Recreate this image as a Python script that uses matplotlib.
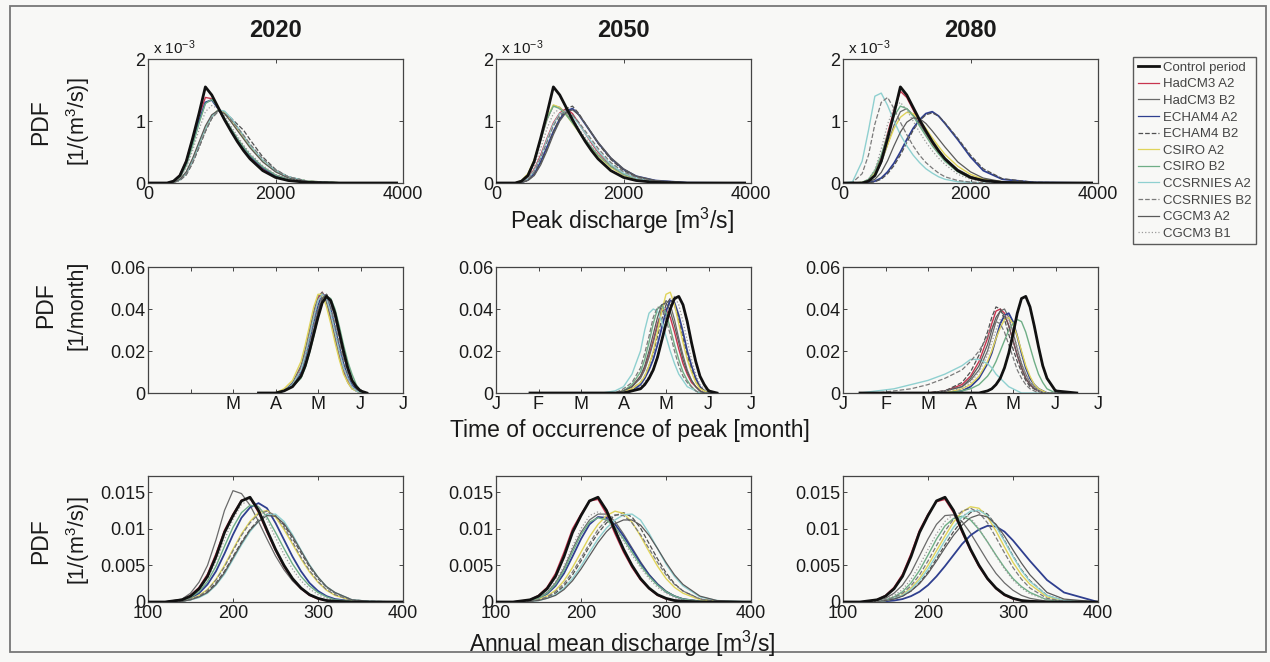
import numpy as np
import matplotlib
matplotlib.use("Agg")
import matplotlib.pyplot as plt
from matplotlib.lines import Line2D
from matplotlib.patches import Rectangle

plt.rcParams['font.family'] = ['Liberation Sans', 'DejaVu Sans']
plt.rcParams['mathtext.fontset'] = 'custom'
plt.rcParams['mathtext.rm'] = 'Liberation Sans'
plt.rcParams['mathtext.it'] = 'Liberation Sans:italic'

# ---------------- data ----------------
years = ['2020', '2050', '2080']
series_names = ['Control period', 'HadCM3 A2', 'HadCM3 B2', 'ECHAM4 A2', 'ECHAM4 B2',
                'CSIRO A2', 'CSIRO B2', 'CCSRNIES A2', 'CCSRNIES B2', 'CGCM3 A2', 'CGCM3 B1']

# Row 1: peak discharge [m3/s], PDF in units of 1e-3
peak_x = [0, 150, 300, 400, 500, 600, 700, 800, 900, 1000, 1100, 1200, 1300, 1400, 1500, 1600,
          1800, 2000, 2200, 2500, 3000, 3900]
peak_control = [0, 0, 0, .03, .12, .35, .72, 1.12, 1.55, 1.42, 1.22, 1.02, .84, .67, .52, .39, .2, .09, .04, .01, 0, 0]
peak_2020 = [
    [0, 0, 0, .03, .13, .36, .72, 1.08, 1.38, 1.36, 1.2, 1.02, .85, .69, .55, .42, .23, .11, .05, .015, 0, 0],
    [0, 0, 0, .01, .05, .15, .35, .6, .86, 1.06, 1.17, 1.15, 1.04, .9, .75, .6, .36, .2, .1, .03, .005, 0],
    [0, 0, 0, .02, .1, .3, .64, 1.0, 1.3, 1.34, 1.2, 1.03, .87, .71, .57, .44, .25, .12, .06, .02, 0, 0],
    [0, 0, 0, .01, .04, .13, .32, .57, .83, 1.04, 1.16, 1.14, 1.05, .95, .85, .7, .42, .22, .1, .03, .005, 0],
    [0, 0, 0, .01, .06, .17, .38, .63, .88, 1.08, 1.18, 1.13, 1.0, .86, .72, .58, .35, .19, .09, .03, .005, 0],
    [0, 0, 0, .02, .09, .28, .6, .96, 1.28, 1.35, 1.22, 1.05, .88, .72, .58, .45, .26, .13, .06, .02, 0, 0],
    [0, 0, 0, .01, .05, .16, .36, .62, .87, 1.07, 1.18, 1.16, 1.05, .91, .76, .61, .37, .2, .1, .03, .005, 0],
    [0, 0, 0, .01, .05, .14, .33, .58, .84, 1.05, 1.15, 1.12, 1.02, .9, .77, .63, .39, .21, .1, .03, .005, 0],
    [0, 0, 0, .01, .06, .18, .4, .66, .92, 1.1, 1.17, 1.12, .99, .85, .71, .57, .34, .18, .08, .02, 0, 0],
    [0, 0, 0, .02, .08, .24, .52, .86, 1.15, 1.25, 1.2, 1.08, .92, .76, .61, .48, .28, .14, .07, .02, 0, 0],
]
peak_2050 = [
    [0, 0, 0, .02, .08, .22, .45, .72, .97, 1.13, 1.2, 1.12, .96, .8, .64, .5, .28, .14, .06, .02, 0, 0],
    [0, 0, 0, .03, .12, .34, .68, 1.02, 1.25, 1.22, 1.12, .98, .84, .7, .57, .45, .26, .13, .06, .02, 0, 0],
    [0, 0, 0, .01, .05, .15, .34, .58, .83, 1.03, 1.16, 1.2, 1.1, .95, .8, .65, .4, .22, .11, .04, .005, 0],
    [0, 0, 0, .01, .04, .13, .31, .55, .82, 1.05, 1.2, 1.24, 1.12, .96, .8, .64, .38, .2, .1, .03, 0, 0],
    [0, 0, 0, .04, .15, .38, .72, 1.05, 1.26, 1.22, 1.1, .96, .82, .68, .55, .44, .25, .13, .06, .02, 0, 0],
    [0, 0, 0, .03, .13, .36, .7, 1.04, 1.24, 1.2, 1.1, .97, .83, .7, .57, .45, .27, .14, .07, .02, 0, 0],
    [0, 0, 0, .02, .07, .2, .42, .7, .95, 1.12, 1.15, 1.08, .95, .8, .66, .52, .3, .16, .08, .02, 0, 0],
    [0, 0, 0, .01, .06, .18, .4, .66, .92, 1.1, 1.16, 1.1, .98, .84, .7, .56, .33, .18, .09, .03, 0, 0],
    [0, 0, 0, .01, .04, .12, .29, .52, .78, 1.0, 1.14, 1.18, 1.1, .96, .81, .66, .41, .23, .11, .04, .005, 0],
    [0, 0, 0, .02, .09, .26, .55, .88, 1.12, 1.2, 1.15, 1.03, .88, .73, .59, .46, .27, .14, .07, .02, 0, 0],
]
peak_2080 = [
    [0, 0, 0, .04, .16, .42, .8, 1.18, 1.48, 1.38, 1.18, .98, .8, .63, .49, .37, .19, .08, .03, .01, 0, 0],
    [0, 0, 0, .03, .12, .32, .62, .93, 1.15, 1.2, 1.1, .95, .8, .65, .52, .4, .22, .11, .05, .01, 0, 0],
    [0, 0, 0, .01, .03, .08, .18, .32, .5, .7, .88, 1.02, 1.12, 1.15, 1.08, .96, .7, .42, .2, .06, .01, 0],
    [0, 0, 0, 0, .02, .06, .15, .28, .45, .65, .85, 1.0, 1.1, 1.13, 1.08, .97, .72, .45, .23, .07, .01, 0],
    [0, 0, .01, .05, .16, .36, .62, .88, 1.06, 1.14, 1.12, 1.02, .88, .73, .59, .46, .27, .14, .06, .02, 0, 0],
    [0, 0, .01, .06, .2, .45, .78, 1.08, 1.24, 1.2, 1.08, .92, .76, .6, .47, .35, .18, .08, .03, .01, 0, 0],
    [0, .02, .35, .85, 1.4, 1.45, 1.25, 1.0, .78, .6, .45, .33, .23, .16, .1, .06, .02, .01, 0, 0, 0, 0],
    [0, .01, .15, .45, .95, 1.3, 1.38, 1.2, .98, .78, .6, .45, .33, .24, .16, .1, .04, .015, .005, 0, 0, 0],
    [0, 0, 0, .02, .06, .17, .36, .6, .82, .98, 1.05, 1.04, .96, .84, .71, .58, .34, .18, .08, .02, 0, 0],
    [0, 0, .01, .06, .22, .55, .95, 1.22, 1.3, 1.18, 1.0, .82, .66, .52, .4, .3, .14, .06, .02, 0, 0, 0],
]

# Row 2: time of occurrence of peak [month index, 0 = January], PDF [1/month]
time_x_2020 = [2.6, 2.8, 3.0, 3.2, 3.4, 3.6, 3.7, 3.8, 3.9, 4.0, 4.1, 4.2, 4.3, 4.4, 4.5, 4.6, 4.7, 4.8, 4.9, 5.0, 5.15]
time_control_2020 = [0, 0, 0, .001, .003, .008, .013, .02, .028, .036, .043, .046, .044, .038, .029, .02, .012, .006, .003, .001, 0]
time_2020 = [
    [0, 0, 0, .001, .004, .012, .019, .028, .037, .045, .048, .044, .036, .027, .018, .011, .006, .003, .001, 0, 0],
    [0, 0, 0, .001, .005, .013, .021, .03, .039, .046, .048, .043, .035, .026, .017, .01, .005, .002, .001, 0, 0],
    [0, 0, 0, .001, .004, .01, .017, .025, .034, .042, .047, .046, .04, .031, .022, .014, .008, .004, .002, 0, 0],
    [0, 0, 0, .001, .003, .008, .013, .02, .029, .038, .045, .047, .044, .037, .028, .019, .012, .006, .003, .001, 0],
    [0, 0, 0, .002, .006, .015, .023, .032, .041, .047, .047, .041, .033, .024, .016, .009, .005, .002, .001, 0, 0],
    [0, 0, 0, .001, .003, .007, .012, .019, .027, .036, .043, .046, .045, .04, .032, .023, .015, .009, .004, .001, 0],
    [0, 0, 0, .001, .004, .011, .018, .027, .036, .044, .047, .045, .038, .029, .02, .012, .007, .003, .001, 0, 0],
    [0, 0, 0, .001, .003, .009, .015, .023, .032, .04, .046, .046, .041, .033, .024, .016, .009, .005, .002, .001, 0],
    [0, 0, 0, .001, .003, .008, .014, .021, .03, .039, .045, .047, .043, .036, .027, .018, .011, .006, .003, .001, 0],
    [0, 0, 0, .001, .004, .011, .018, .026, .035, .043, .047, .045, .039, .03, .021, .013, .007, .003, .001, 0, 0],
]
time_x_2050 = [0.8, 1.5, 2.0, 2.5, 2.8, 3.0, 3.2, 3.4, 3.5, 3.6, 3.7, 3.8, 3.9, 4.0, 4.1, 4.2, 4.3, 4.4, 4.5,
               4.6, 4.7, 4.8, 4.9, 5.0, 5.2]
time_control_2050 = [0, 0, 0, 0, 0, 0, .001, .002, .004, .007, .011, .017, .025, .033, .04, .045, .046, .042, .034,
                     .024, .015, .008, .004, .001, 0]
time_2050 = [
    [0, 0, 0, 0, 0, .001, .003, .008, .012, .018, .025, .033, .039, .04, .036, .029, .021, .014, .009, .005, .003, .001, 0, 0, 0],
    [0, 0, 0, 0, 0, .001, .003, .007, .011, .017, .024, .032, .04, .044, .042, .035, .026, .018, .011, .006, .003, .001, 0, 0, 0],
    [0, 0, 0, 0, 0, 0, .001, .004, .007, .011, .016, .023, .031, .039, .044, .043, .037, .029, .02, .013, .007, .003, .001, 0, 0],
    [0, 0, 0, 0, 0, 0, .002, .005, .008, .013, .019, .027, .035, .042, .045, .042, .035, .026, .018, .011, .006, .003, .001, 0, 0],
    [0, 0, 0, 0, 0, .001, .002, .005, .008, .013, .02, .029, .039, .047, .048, .042, .033, .024, .016, .01, .005, .002, .001, 0, 0],
    [0, 0, 0, 0, 0, .001, .004, .01, .016, .024, .033, .04, .042, .038, .031, .023, .016, .01, .006, .003, .001, 0, 0, 0, 0],
    [0, 0, 0, 0, .001, .003, .009, .02, .03, .038, .04, .039, .034, .027, .02, .014, .009, .006, .003, .002, .001, 0, 0, 0, 0],
    [0, 0, 0, 0, 0, .002, .005, .012, .019, .027, .036, .041, .04, .035, .028, .02, .013, .008, .005, .003, .001, 0, 0, 0, 0],
    [0, 0, 0, 0, 0, .001, .003, .008, .013, .02, .028, .036, .042, .043, .039, .032, .024, .016, .01, .006, .003, .001, 0, 0, 0],
    [0, 0, 0, 0, 0, 0, .001, .003, .005, .008, .012, .018, .026, .035, .043, .046, .042, .034, .025, .016, .009, .004, .002, .001, 0],
]
time_x_2080 = [0.4, 0.8, 1.2, 1.6, 2.0, 2.4, 2.8, 3.0, 3.2, 3.4, 3.5, 3.6, 3.7, 3.8, 3.9, 4.0, 4.1, 4.2, 4.3,
               4.4, 4.5, 4.6, 4.7, 4.8, 5.0, 5.5]
time_control_2080 = [0, 0, 0, 0, 0, 0, 0, 0, 0, .001, .002, .004, .007, .012, .019, .028, .038, .045, .046, .041,
                     .032, .022, .013, .007, .001, 0]
time_2080 = [
    [0, 0, 0, 0, 0, .001, .004, .008, .015, .026, .033, .039, .04, .038, .032, .025, .018, .012, .007, .004, .002, .001, 0, 0, 0, 0],
    [0, 0, 0, 0, 0, .001, .003, .006, .011, .02, .027, .034, .039, .04, .036, .029, .021, .014, .009, .005, .003, .001, 0, 0, 0, 0],
    [0, 0, 0, 0, 0, 0, .001, .003, .007, .014, .019, .026, .033, .037, .038, .034, .027, .019, .012, .007, .004, .002, .001, 0, 0, 0],
    [0, 0, 0, 0, 0, .001, .005, .01, .018, .029, .036, .041, .04, .035, .028, .021, .015, .01, .006, .003, .002, .001, 0, 0, 0, 0],
    [0, 0, 0, 0, 0, 0, .002, .004, .008, .015, .02, .026, .031, .035, .036, .033, .027, .02, .013, .008, .004, .002, .001, 0, 0, 0],
    [0, 0, 0, 0, 0, 0, .001, .002, .004, .008, .011, .015, .02, .025, .03, .033, .035, .034, .029, .022, .015, .009, .005, .002, 0, 0],
    [0, .001, .002, .004, .006, .009, .013, .016, .016, .014, .012, .009, .007, .005, .003, .002, .001, 0, 0, 0, 0, 0, 0, 0, 0, 0],
    [0, 0, .001, .002, .004, .007, .011, .015, .02, .027, .031, .034, .033, .029, .023, .017, .011, .007, .004, .002, .001, 0, 0, 0, 0, 0],
    [0, 0, 0, 0, 0, .001, .003, .007, .013, .023, .03, .036, .039, .037, .032, .025, .018, .012, .007, .004, .002, .001, 0, 0, 0, 0],
    [0, 0, 0, 0, 0, .001, .002, .005, .01, .018, .024, .03, .035, .037, .035, .029, .022, .015, .009, .005, .003, .001, 0, 0, 0, 0],
]

# Row 3: annual mean discharge [m3/s], PDF in units of 1e-3
mean_x = [100, 120, 140, 150, 160, 170, 180, 190, 200, 210, 220, 230, 240, 250, 260, 270, 280, 290, 300,
          310, 320, 340, 360, 400]
mean_control = [0, 0, .3, .8, 1.8, 3.5, 6.2, 9.5, 11.8, 13.8, 14.3, 12.5, 9.8, 7.2, 5.0, 3.2, 1.9, 1.0, .5, .2, .1, 0, 0, 0]
mean_2020 = [
    [0, 0, .3, .9, 2.0, 3.8, 6.6, 9.8, 12.0, 13.9, 14.2, 12.2, 9.5, 7.0, 4.8, 3.0, 1.8, .9, .4, .2, .1, 0, 0, 0],
    [0, 0, .4, 1.2, 2.7, 5.0, 8.5, 12.5, 15.2, 14.8, 13.2, 11.0, 8.6, 6.3, 4.4, 2.9, 1.8, 1.0, .5, .2, .1, 0, 0, 0],
    [0, 0, .2, .5, 1.2, 2.4, 4.2, 6.6, 9.2, 11.5, 12.9, 13.5, 12.8, 10.8, 8.5, 6.2, 4.2, 2.6, 1.5, .8, .4, .1, 0, 0],
    [0, 0, .1, .3, .7, 1.4, 2.6, 4.2, 6.2, 8.2, 9.9, 11.2, 12.0, 11.8, 10.5, 8.7, 6.7, 4.8, 3.2, 2.0, 1.2, .3, .1, 0],
    [0, 0, .1, .4, .9, 1.7, 3.1, 5.0, 7.2, 9.3, 11.0, 12.2, 12.5, 11.6, 9.9, 7.9, 5.9, 4.1, 2.7, 1.6, .9, .2, 0, 0],
    [0, 0, .2, .6, 1.4, 2.8, 4.9, 7.6, 10.2, 12.2, 13.2, 13.0, 11.6, 9.5, 7.3, 5.2, 3.5, 2.2, 1.3, .7, .3, .1, 0, 0],
    [0, 0, .1, .3, .6, 1.2, 2.3, 3.8, 5.8, 7.8, 9.6, 11.0, 11.9, 12.0, 11.0, 9.2, 7.1, 5.1, 3.4, 2.1, 1.3, .3, .1, 0],
    [0, 0, .1, .4, .8, 1.6, 3.0, 4.8, 7.0, 9.1, 10.8, 12.0, 12.4, 11.8, 10.2, 8.2, 6.1, 4.3, 2.8, 1.7, 1.0, .2, 0, 0],
    [0, 0, .1, .3, .7, 1.3, 2.4, 4.0, 6.0, 8.0, 9.8, 11.0, 11.8, 11.7, 10.7, 9.0, 7.0, 5.0, 3.4, 2.1, 1.3, .3, .1, 0],
    [0, 0, .2, .7, 1.6, 3.2, 5.6, 8.5, 11.3, 13.3, 14.0, 13.1, 11.2, 8.8, 6.5, 4.5, 2.9, 1.8, 1.0, .5, .2, .1, 0, 0],
]
mean_2050 = [
    [0, 0, .3, .9, 2.0, 3.9, 6.8, 10.0, 12.0, 13.8, 14.0, 12.0, 9.3, 6.8, 4.7, 3.0, 1.8, .9, .4, .2, .1, 0, 0, 0],
    [0, 0, .2, .6, 1.3, 2.6, 4.6, 7.2, 9.5, 11.2, 12.0, 12.0, 11.0, 9.3, 7.4, 5.5, 3.8, 2.5, 1.5, .8, .4, .1, 0, 0],
    [0, 0, .2, .5, 1.1, 2.2, 3.9, 6.2, 8.6, 10.6, 11.6, 11.5, 10.6, 9.0, 7.2, 5.3, 3.7, 2.4, 1.4, .8, .4, .1, 0, 0],
    [0, 0, .1, .3, .6, 1.2, 2.2, 3.7, 5.6, 7.6, 9.4, 10.8, 11.8, 12.2, 11.6, 10.1, 8.0, 5.9, 4.0, 2.5, 1.5, .4, .1, 0],
    [0, 0, .1, .4, .8, 1.6, 2.9, 4.7, 6.8, 8.9, 10.6, 11.8, 12.4, 12.1, 10.9, 9.0, 6.9, 4.9, 3.2, 2.0, 1.2, .3, .1, 0],
    [0, 0, .2, .5, 1.2, 2.4, 4.3, 6.8, 9.2, 10.9, 11.5, 11.2, 10.2, 8.6, 6.8, 5.0, 3.5, 2.3, 1.4, .8, .4, .1, 0, 0],
    [0, 0, .1, .2, .5, 1.0, 1.9, 3.2, 4.9, 6.8, 8.6, 10.1, 11.2, 11.9, 12.0, 11.2, 9.4, 7.3, 5.2, 3.5, 2.2, .7, .2, 0],
    [0, 0, .1, .3, .7, 1.4, 2.5, 4.1, 6.0, 8.0, 9.9, 11.2, 11.9, 11.8, 10.8, 9.2, 7.3, 5.4, 3.7, 2.4, 1.5, .4, .1, 0],
    [0, 0, .1, .2, .5, .9, 1.7, 2.9, 4.5, 6.3, 8.1, 9.6, 10.7, 11.2, 11.2, 10.5, 9.1, 7.3, 5.4, 3.7, 2.4, .8, .2, 0],
    [0, 0, .2, .6, 1.4, 2.8, 4.9, 7.6, 10.0, 11.8, 12.3, 11.7, 10.2, 8.3, 6.4, 4.7, 3.2, 2.0, 1.2, .6, .3, .1, 0, 0],
]
mean_2080 = [
    [0, 0, .3, .9, 2.0, 3.8, 6.6, 9.8, 12.0, 13.7, 14.0, 12.2, 9.5, 7.0, 4.8, 3.1, 1.8, .9, .4, .2, .1, 0, 0, 0],
    [0, 0, .2, .5, 1.2, 2.3, 4.0, 6.3, 8.6, 10.6, 11.8, 11.9, 11.0, 9.4, 7.5, 5.6, 3.9, 2.6, 1.6, .9, .5, .1, 0, 0],
    [0, 0, 0, .1, .2, .4, .8, 1.4, 2.3, 3.5, 4.9, 6.4, 7.9, 9.1, 9.9, 10.4, 10.3, 9.6, 8.4, 7.0, 5.6, 3.0, 1.3, 0],
    [0, 0, .1, .2, .4, .8, 1.5, 2.6, 4.1, 5.9, 7.8, 9.6, 11.1, 12.2, 12.6, 12.0, 10.5, 8.4, 6.3, 4.4, 2.9, .9, .2, 0],
    [0, 0, .1, .2, .5, 1.0, 1.9, 3.2, 5.0, 7.0, 9.0, 10.9, 12.3, 13.0, 12.8, 11.6, 9.7, 7.5, 5.4, 3.7, 2.4, .7, .2, 0],
    [0, 0, .1, .3, .7, 1.4, 2.6, 4.3, 6.4, 8.6, 10.4, 11.4, 11.7, 11.2, 9.9, 8.2, 6.4, 4.7, 3.2, 2.1, 1.3, .3, .1, 0],
    [0, 0, .1, .2, .5, .9, 1.7, 2.9, 4.5, 6.4, 8.4, 10.2, 11.6, 12.4, 12.5, 11.8, 10.3, 8.3, 6.2, 4.3, 2.8, .9, .2, 0],
    [0, 0, .1, .3, .6, 1.2, 2.2, 3.7, 5.6, 7.7, 9.7, 11.3, 12.4, 12.8, 12.2, 10.8, 8.8, 6.7, 4.7, 3.1, 1.9, .5, .1, 0],
    [0, 0, .1, .2, .4, .8, 1.5, 2.5, 3.9, 5.6, 7.4, 9.1, 10.5, 11.5, 11.9, 11.6, 10.6, 9.0, 7.1, 5.3, 3.7, 1.3, .4, 0],
    [0, 0, .1, .4, .9, 1.7, 3.1, 5.0, 7.2, 9.3, 11.0, 12.0, 12.2, 11.5, 10.0, 8.2, 6.3, 4.5, 3.0, 1.9, 1.1, .3, .1, 0],
]

month_ticks = [0, 1, 2, 3, 4, 5, 6]
month_labels = ['J', 'F', 'M', 'A', 'M', 'J', 'J']
month_labels_2020 = ['', '', 'M', 'A', 'M', 'J', 'J']

# ---------------- styles ----------------
colors = ['#111111', '#c8344e', '#6a6a6a', '#2f3f8f', '#505050', '#e0d45a',
          '#6fae86', '#8fd0d0', '#7a7a7a', '#5a5a5a', '#9a9a9a']
widths = [2.0, 1.0, 0.9, 1.3, 0.9, 1.0, 1.0, 1.0, 0.9, 0.9, 0.9]
styles = ['-', '-', '-', '-', '--', '-', '-', '-', '--', '-', ':']

BG = '#f8f8f6'
TXT = '#1a1a1a'
W, H = 1270, 662
fig = plt.figure(figsize=(12.7, 6.62), dpi=100, facecolor=BG)

def axes_px(left, top, width, height):
    return fig.add_axes([left / W, 1 - (top + height) / H, width / W, height / H], facecolor=BG)

col_left = [148, 496, 843]
col_w = 255
row_top = [59, 267, 476]
row_h = [124, 126, 126]
TICK_FS = 13

def style_axes(ax):
    for s in ax.spines.values():
        s.set_color('#444444')
        s.set_linewidth(0.9)
    ax.tick_params(direction='in', length=3, width=0.7, colors='#444444', labelcolor=TXT,
                   labelsize=TICK_FS, top=True, right=True, pad=2)

def draw(ax, x, control, others, scale=1.0):
    for i, ys in enumerate(others, start=1):
        ax.plot(x, np.array(ys) * scale, color=colors[i], lw=widths[i], ls=styles[i], zorder=2)
    ax.plot(x, np.array(control) * scale, color=colors[0], lw=widths[0], ls=styles[0], zorder=3)

# Row 1
peak_sets = [peak_2020, peak_2050, peak_2080]
for c in range(3):
    ax = axes_px(col_left[c], row_top[0], col_w, row_h[0])
    draw(ax, peak_x, peak_control, peak_sets[c])
    ax.set_xlim(0, 4000)
    ax.set_ylim(0, 2)
    ax.set_xticks([0, 2000, 4000])
    ax.set_yticks([0, 1, 2])
    style_axes(ax)
    ax.text(0.02, 1.02, r'x 10$^{-3}$', transform=ax.transAxes, fontsize=11, color=TXT,
            ha='left', va='bottom')
    ax.text(0.5, 1.14, years[c], transform=ax.transAxes, fontsize=17, fontweight='bold',
            color=TXT, ha='center', va='bottom')

# Row 2
time_x = [time_x_2020, time_x_2050, time_x_2080]
time_ctrl = [time_control_2020, time_control_2050, time_control_2080]
time_sets = [time_2020, time_2050, time_2080]
for c in range(3):
    ax = axes_px(col_left[c], row_top[1], col_w, row_h[1])
    draw(ax, time_x[c], time_ctrl[c], time_sets[c])
    ax.set_xlim(0, 6)
    ax.set_ylim(0, 0.06)
    ax.set_xticks(month_ticks)
    ax.set_xticklabels(month_labels_2020 if c == 0 else month_labels)
    ax.set_yticks([0, 0.02, 0.04, 0.06])
    ax.set_yticklabels(['0', '0.02', '0.04', '0.06'])
    style_axes(ax)

# Row 3
mean_sets = [mean_2020, mean_2050, mean_2080]
for c in range(3):
    ax = axes_px(col_left[c], row_top[2], col_w, row_h[2])
    draw(ax, mean_x, mean_control, mean_sets[c], scale=1e-3)
    ax.set_xlim(100, 400)
    ax.set_ylim(0, 0.0172)
    ax.set_xticks([100, 200, 300, 400])
    ax.set_yticks([0, 0.005, 0.01, 0.015])
    ax.set_yticklabels(['0', '0.005', '0.01', '0.015'])
    style_axes(ax)

# axis labels
LAB_FS = 16.5
def ftext(xp, yp, s, **kw):
    fig.text(xp / W, 1 - yp / H, s, color=TXT, **kw)

ftext(622, 221, r'Peak discharge [m$^3$/s]', fontsize=LAB_FS, ha='center', va='center')
ftext(630, 431, 'Time of occurrence of peak [month]', fontsize=LAB_FS, ha='center', va='center')
ftext(622, 644, r'Annual mean discharge [m$^3$/s]', fontsize=LAB_FS, ha='center', va='center')

for (yc, second, x1, x2) in [(122, r'[1/(m$^3$/s)]', 41, 78),
                             (305, '[1/month]', 46, 77),
                             (541, r'[1/(m$^3$/s)]', 41, 78)]:
    ftext(x1, yc, 'PDF', fontsize=LAB_FS, rotation=90, ha='center', va='center')
    ftext(x2, yc, second, fontsize=LAB_FS - 1, rotation=90, ha='center', va='center')

# legend
handles = [Line2D([], [], color=colors[i], lw=widths[i] if i == 0 else 0.9, ls=styles[i])
           for i in range(len(series_names))]
leg = fig.legend(handles, series_names, loc='upper left',
                 bbox_to_anchor=(1133 / W, 1 - 57 / H), fontsize=9.5,
                 handlelength=1.6, handletextpad=0.3, labelspacing=0.33, borderpad=0.35,
                 borderaxespad=0, frameon=True, fancybox=False)
leg.get_frame().set_edgecolor('#333333')
leg.get_frame().set_linewidth(1.0)
leg.get_frame().set_facecolor(BG)
for t in leg.get_texts():
    t.set_color('#444444')

# outer border
fig.patches.append(Rectangle((10 / W, 1 - 652 / H), 1256 / W, 646 / H, transform=fig.transFigure,
                             fill=False, edgecolor='#777777', linewidth=1.3))

fig.savefig('out.png', dpi=100, facecolor=BG)
